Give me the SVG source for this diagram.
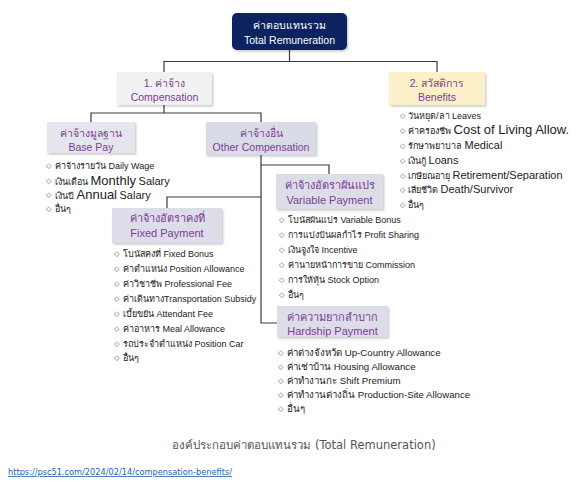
<svg xmlns="http://www.w3.org/2000/svg" width="586" height="482" viewBox="0 0 586 482">
<defs>
<filter id="sh" x="-10%" y="-10%" width="130%" height="140%">
<feDropShadow dx="1.2" dy="1.5" stdDeviation="1" flood-color="#000" flood-opacity="0.22"/>
</filter>
<style>
.lbl{font-family:"Liberation Sans","Noto Sans",sans-serif;font-size:10.5px;fill:#7d3c98;text-anchor:middle}
.top{font-family:"Liberation Sans","Noto Sans",sans-serif;font-size:10.5px;fill:#ffffff;text-anchor:middle}
.it{font-family:"Liberation Sans","Noto Sans",sans-serif;font-size:9px;fill:#222}
.it2{font-family:"Liberation Sans","Noto Sans",sans-serif;font-size:9.7px;fill:#222}
.bu{font-family:"DejaVu Sans",sans-serif;font-size:7px;fill:#555}
.big{font-size:13px}
.mid{font-size:11px}
.box{stroke:none;filter:url(#sh)}
.con{fill:none;stroke:#3a3a3a;stroke-width:1.2}
</style>
</defs>
<rect width="586" height="482" fill="#ffffff"/>

<g id="connectors">
<path class="con" d="M289.5 50 V61.5 M164 72 V61.5 H437 V72"/>
<path class="con" d="M164 105 V113 M91 122 V113 H261 V122"/>
<path class="con" d="M261 155 V323 H277"/>
<path class="con" d="M261 165 H329 V174"/>
<path class="con" d="M261 197 H167 V208"/>
</g>

<g id="total">
<rect class="box" x="232" y="13" width="115" height="37" rx="5" fill="#0f2260"/>
<text class="top" x="289.5" y="29">ค่าตอบแทนรวม</text>
<text class="top" x="289.5" y="44">Total Remuneration</text>
</g>

<g id="compensation">
<rect class="box" x="117" y="72" width="95" height="33" fill="#f1f1f1"/>
<text class="lbl" x="164.5" y="87">1. ค่าจ้าง</text>
<text class="lbl" x="164.5" y="101">Compensation</text>
</g>

<g id="benefits">
<rect class="box" x="389" y="72" width="96" height="33" fill="#fcf0c9"/>
<text class="lbl" x="437" y="87">2. สวัสดิการ</text>
<text class="lbl" x="437" y="101">Benefits</text>
<g>
<text class="bu" x="400" y="118">◇</text><text class="it" x="408" y="118.5">วันหยุด/ลา Leaves</text>
<text class="bu" x="400" y="133">◇</text><text class="it" x="408" y="134">ค่าครองชีพ <tspan class="big">Cost of Living Allow.</tspan></text>
<text class="bu" x="400" y="148">◇</text><text class="it" x="408" y="149">รักษาพยาบาล <tspan class="mid">Medical</tspan></text>
<text class="bu" x="400" y="163">◇</text><text class="it" x="408" y="164">เงินกู้ <tspan class="mid">Loans</tspan></text>
<text class="bu" x="400" y="178">◇</text><text class="it" x="408" y="179">เกษียณอายุ <tspan class="mid">Retirement/Separation</tspan></text>
<text class="bu" x="400" y="192">◇</text><text class="it" x="408" y="193">เสียชีวิต <tspan class="mid">Death/Survivor</tspan></text>
<text class="bu" x="400" y="207">◇</text><text class="it" x="408" y="207.5">อื่นๆ</text>
</g>
</g>

<g id="basepay">
<rect class="box" x="47" y="122" width="88" height="31" fill="#e5e5ed"/>
<text class="lbl" x="91" y="137">ค่าจ้างมูลฐาน</text>
<text class="lbl" x="91" y="151">Base Pay</text>
<text class="bu" x="46" y="168">◇</text><text class="it" x="55" y="168.5">ค่าจ้างรายวัน Daily Wage</text>
<text class="bu" x="46" y="183">◇</text><text class="it" x="55" y="184.5">เงินเดือน <tspan class="big">Monthly</tspan> <tspan class="mid">Salary</tspan></text>
<text class="bu" x="46" y="197">◇</text><text class="it" x="55" y="198.5">เงินปี <tspan class="big">Annual</tspan> <tspan class="mid">Salary</tspan></text>
<text class="bu" x="46" y="211">◇</text><text class="it" x="55" y="211.5">อื่นๆ</text>
</g>

<g id="other">
<rect class="box" x="206" y="122" width="110" height="33" fill="#d9dce7"/>
<text class="lbl" x="261" y="137">ค่าจ้างอื่น</text>
<text class="lbl" x="261" y="151">Other Compensation</text>
</g>

<g id="variable">
<rect class="box" x="276" y="174" width="107" height="35" fill="#dcdde7"/>
<text class="lbl mid" x="329.5" y="189">ค่าจ้างอัตราผันแปร</text>
<text class="lbl mid" x="329.5" y="204">Variable Payment</text>
<text class="bu" x="279" y="222">◇</text><text class="it" x="288" y="222.5">โบนัสผันแปร Variable Bonus</text>
<text class="bu" x="279" y="237">◇</text><text class="it" x="288" y="237.5">การแบ่งปันผลกำไร Profit Sharing</text>
<text class="bu" x="279" y="252">◇</text><text class="it" x="288" y="252.5">เงินจูงใจ Incentive</text>
<text class="bu" x="279" y="267">◇</text><text class="it" x="288" y="267.5">ค่านายหน้าการขาย Commission</text>
<text class="bu" x="279" y="282">◇</text><text class="it" x="288" y="282.5">การให้หุ้น Stock Option</text>
<text class="bu" x="279" y="297">◇</text><text class="it" x="288" y="297.5">อื่นๆ</text>
</g>

<g id="fixed">
<rect class="box" x="112" y="208" width="110" height="35" fill="#dcdde8"/>
<text class="lbl mid" x="167" y="222">ค่าจ้างอัตราคงที่</text>
<text class="lbl mid" x="167" y="237">Fixed Payment</text>
<text class="bu" x="114" y="256">◇</text><text class="it" x="123" y="256.5">โบนัสคงที่ Fixed Bonus</text>
<text class="bu" x="114" y="271">◇</text><text class="it" x="123" y="271.5">ค่าตำแหน่ง Position Allowance</text>
<text class="bu" x="114" y="286">◇</text><text class="it" x="123" y="286.5">ค่าวิชาชีพ Professional Fee</text>
<text class="bu" x="114" y="301">◇</text><text class="it" x="123" y="301.5">ค่าเดินทางTransportation Subsidy</text>
<text class="bu" x="114" y="316">◇</text><text class="it" x="123" y="316.5">เบี้ยขยัน Attendant Fee</text>
<text class="bu" x="114" y="331">◇</text><text class="it" x="123" y="331.5">ค่าอาหาร Meal Allowance</text>
<text class="bu" x="114" y="346">◇</text><text class="it" x="123" y="346.5">รถประจำตำแหน่ง Position Car</text>
<text class="bu" x="114" y="360">◇</text><text class="it" x="123" y="360.5">อื่นๆ</text>
</g>

<g id="hardship">
<rect class="box" x="277" y="306" width="111" height="31" fill="#dcdde8"/>
<text class="lbl mid" x="332.5" y="321">ค่าความยากลำบาก</text>
<text class="lbl mid" x="332.5" y="335">Hardship Payment</text>
<text class="bu" x="278" y="355">◇</text><text class="it2" x="287" y="355.5">ค่าต่างจังหวัด Up-Country Allowance</text>
<text class="bu" x="278" y="369">◇</text><text class="it2" x="287" y="369.5">ค่าเช่าบ้าน Housing Allowance</text>
<text class="bu" x="278" y="383">◇</text><text class="it2" x="287" y="383.5">ค่าทำงานกะ Shift Premium</text>
<text class="bu" x="278" y="397">◇</text><text class="it2" x="287" y="397.5">ค่าทำงานต่างถิ่น Production-Site Allowance</text>
<text class="bu" x="278" y="411">◇</text><text class="it2" x="287" y="411.5">อื่นๆ</text>
</g>

<text x="304" y="449" font-family="'DejaVu Sans',sans-serif" font-size="11.5" fill="#555" text-anchor="middle">องค์ประกอบค่าตอบแทนรวม (Total Remuneration)</text>
<text x="8" y="475" font-family="'DejaVu Sans',sans-serif" font-size="8" fill="#1f5fb0" text-decoration="underline" textLength="224" lengthAdjust="spacingAndGlyphs">https://psc51.com/2024/02/14/compensation-benefits/</text>
</svg>
